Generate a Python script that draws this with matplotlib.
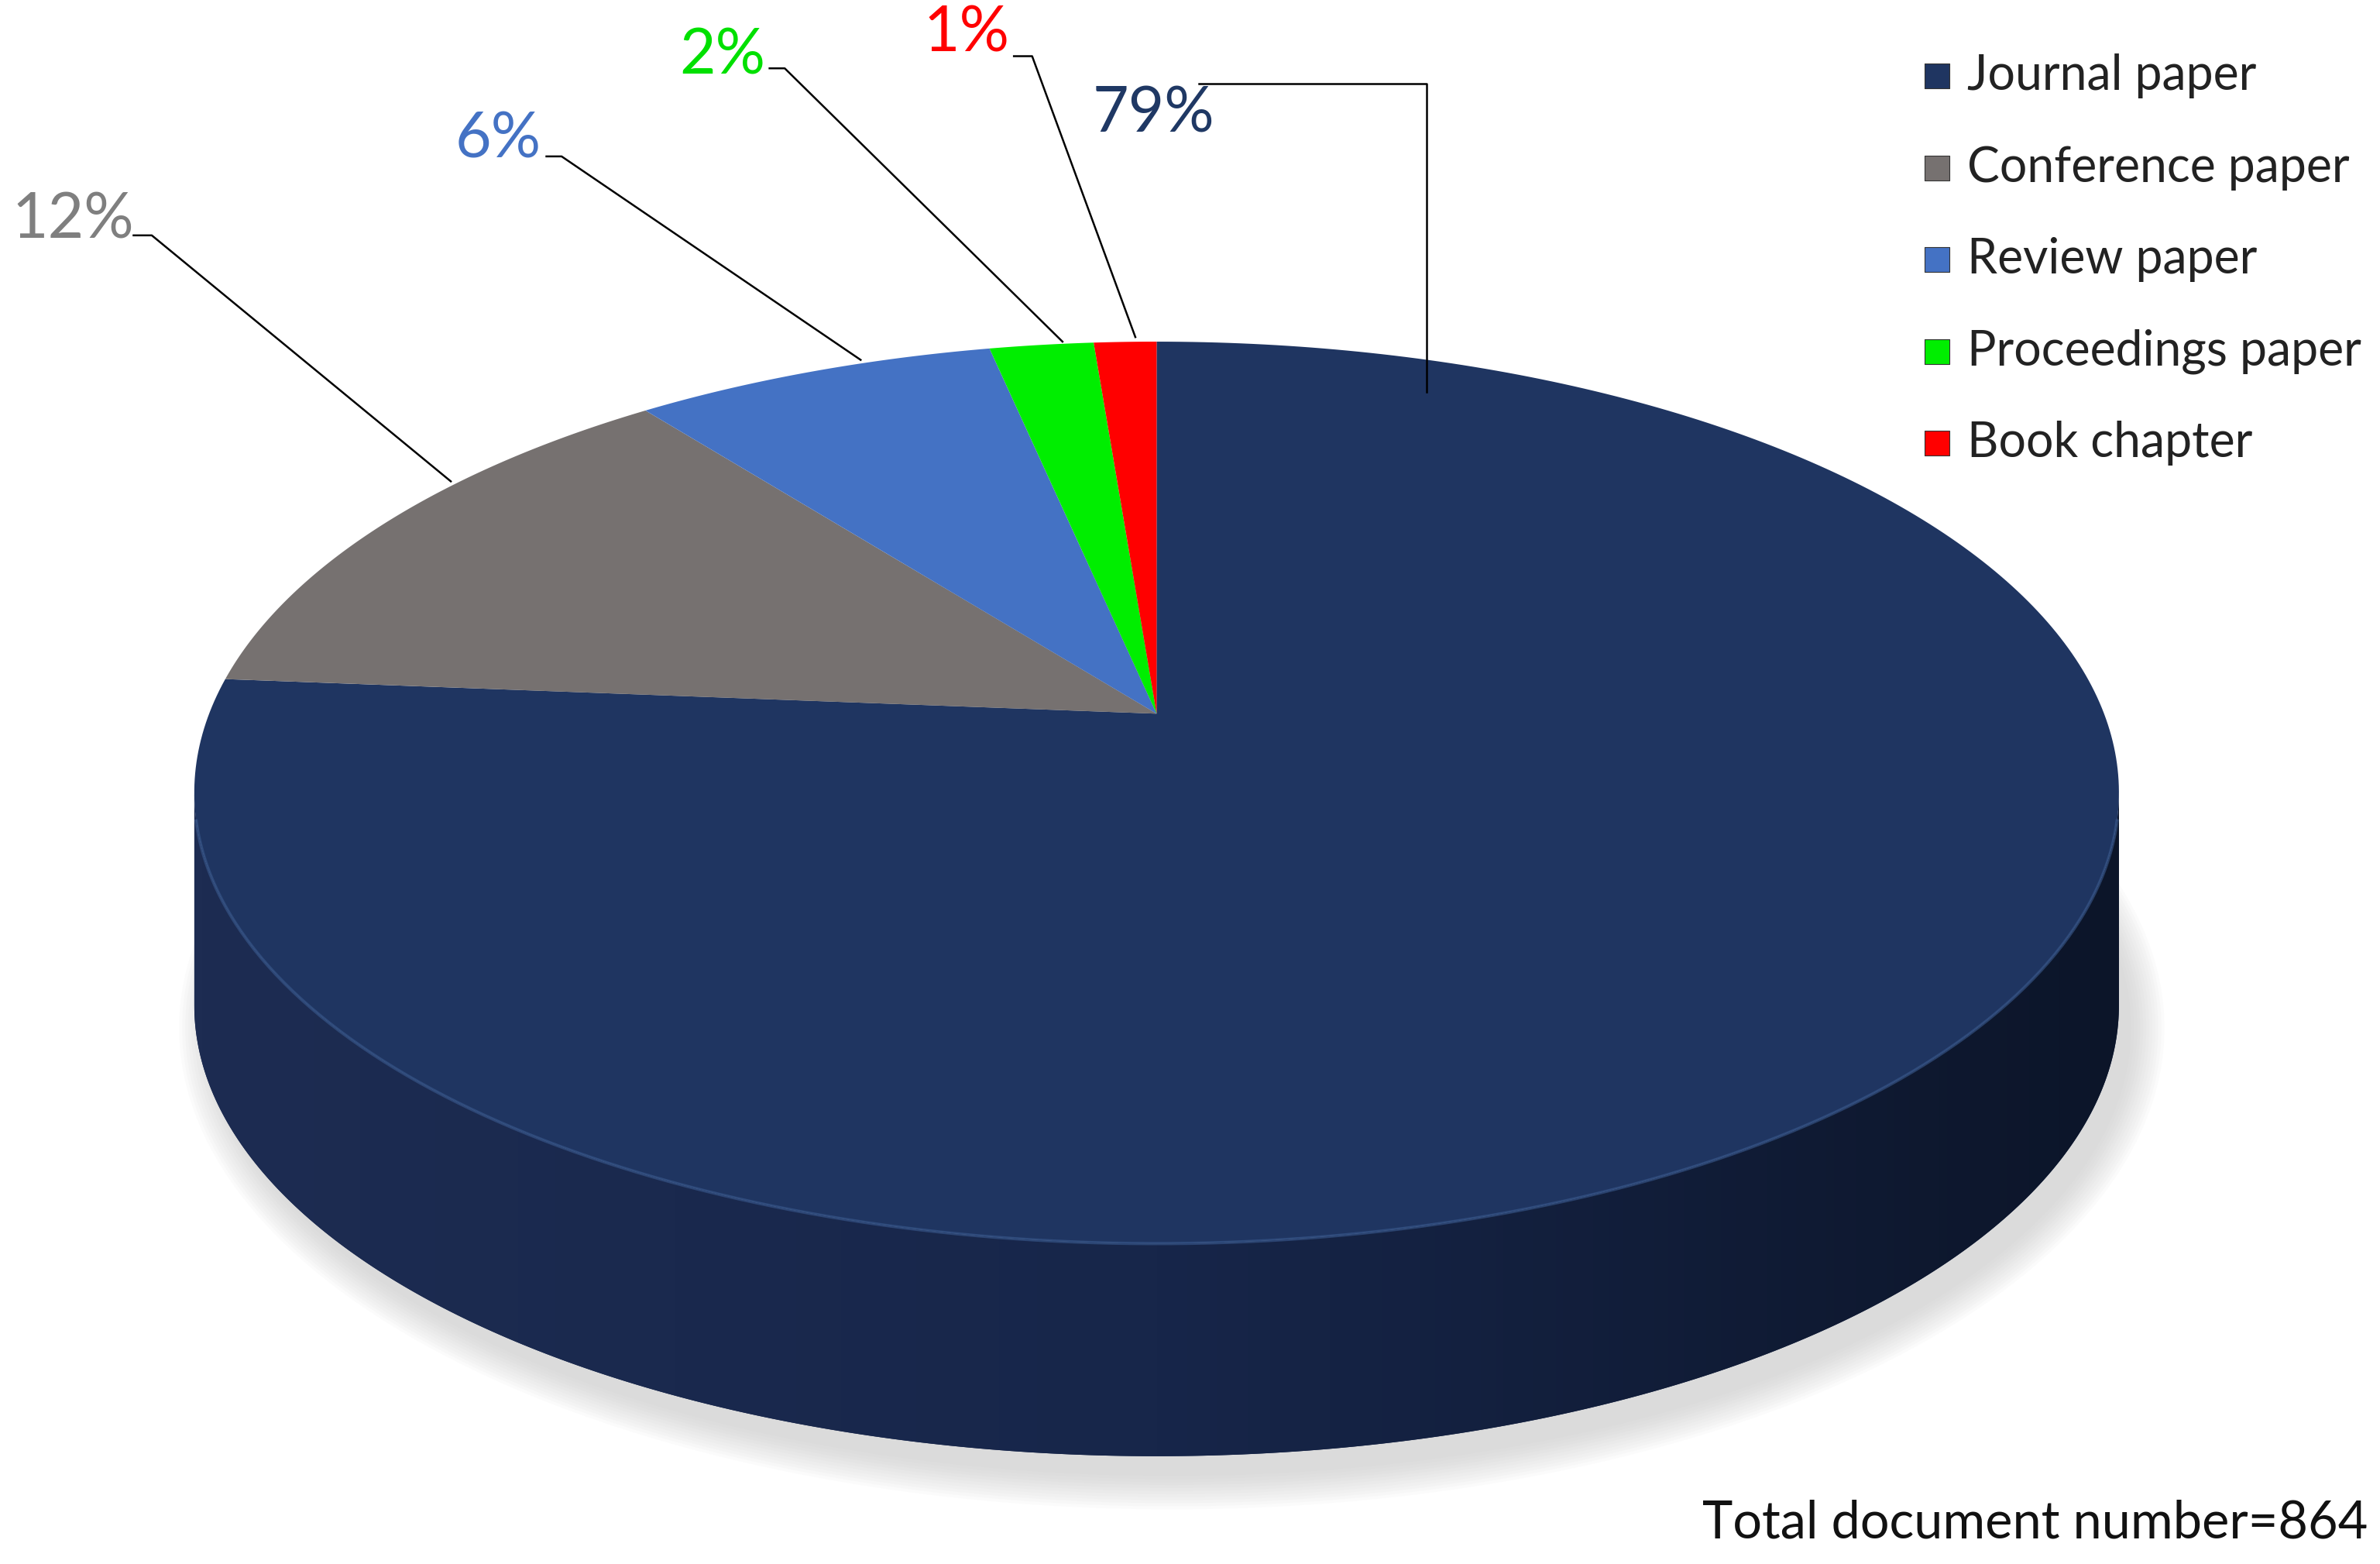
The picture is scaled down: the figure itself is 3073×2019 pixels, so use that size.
import numpy as np
import matplotlib.pyplot as plt
from matplotlib.patches import Polygon, Ellipse
from matplotlib.colors import LinearSegmentedColormap

plt.rcParams['font.family'] = ['Lato', 'DejaVu Sans']

# document counts (total 864)
categories = ['Journal paper', 'Conference paper', 'Review paper', 'Proceedings paper', 'Book chapter']
counts = [683, 104, 53, 15, 9]
pct_labels = ['79%', '12%', '6%', '2%', '1%']
colors = ['#1f3561', '#767170', '#4472c4', '#00ee00', '#ff0000']
label_colors = ['#1f3864', '#7f7f7f', '#4472c4', '#00e000', '#ff0000']
total_label = 'Total document number=864'

W, H = 1568, 1030
fig = plt.figure(figsize=(30.73, 20.19), dpi=100)
ax = fig.add_axes([0, 0, 1, 1])
ax.set_xlim(0, W)
ax.set_ylim(H, 0)
ax.axis('off')

cx, cy, rx, ry, depth = 762, 522, 634, 297, 140
apex_y = 470  # perspective: slice apex sits above the ellipse centre

def ell(t, dy=0):
    return np.column_stack([cx + rx * np.cos(t), cy + dy - ry * np.sin(t)])

# shadow
for i in range(12):
    ax.add_patch(Ellipse((cx + 10, cy + depth + 15), 2 * rx + 40 - i * 4, 2 * ry + 40 - i * 4,
                         color='#bbbbbb', alpha=0.05, lw=0))

# side band (front half)
t = np.linspace(np.pi, 2 * np.pi, 300)
side = np.vstack([ell(t), ell(t[::-1], depth)])
sp = Polygon(side, closed=True, facecolor='#162549', edgecolor='none')
ax.add_patch(sp)
cmap = LinearSegmentedColormap.from_list('side', ['#1d2c52', '#17264a', '#0c1529'])
grad = np.linspace(0, 1, 256).reshape(1, -1)
im = ax.imshow(grad, cmap=cmap, extent=[cx - rx, cx + rx, cy + ry + depth, cy - 10],
               aspect='auto', zorder=2)
im.set_clip_path(sp)

# top face wedges, clockwise from 12 o'clock
fracs = np.array(counts) / sum(counts)
start = np.pi / 2
for frac, col in zip(fracs, colors):
    end = start - 2 * np.pi * frac
    tt = np.linspace(start, end, 400)
    pts = np.vstack([[cx, apex_y], ell(tt)])
    ax.add_patch(Polygon(pts, closed=True, facecolor=col, edgecolor='none', zorder=3))
    start = end
# rim highlight
tt = np.linspace(np.pi * 1.02, np.pi * 1.98, 300)
ax.plot(*ell(tt).T, color='#3a5a8f', lw=3, alpha=0.6, zorder=4)

# labels with leader lines
label_pos = [(760, 75), (48, 145), (328, 92), (476, 37), (637, 22)]
leaders = [
    [(790, 55), (940, 55), (940, 258)],
    [(88, 155), (100, 155), (297, 317)],
    [(360, 103), (370, 103), (567, 237)],
    [(507, 45), (517, 45), (700, 225)],
    [(668, 37), (680, 37), (748, 222)],
]
for lab, (x, y), col, ln in zip(pct_labels, label_pos, label_colors, leaders):
    ax.text(x, y, lab, color=col, fontsize=58, ha='center', va='center', zorder=6)
    ax.plot(*np.array(ln).T, color='black', lw=1.8, zorder=5)

# legend
for i, (cat, col) in enumerate(zip(categories, colors)):
    y = 50 + i * 60.5
    ax.scatter([1276], [y], marker='s', s=560, color=col, edgecolors='#333333', lw=0.8, zorder=6)
    ax.text(1296, y, cat, fontsize=45, va='center', ha='left', color='#222222')

ax.text(1560, 1003, total_label, fontsize=48, ha='right', va='center', color='#111111')

fig.savefig('out.png', dpi=100)
